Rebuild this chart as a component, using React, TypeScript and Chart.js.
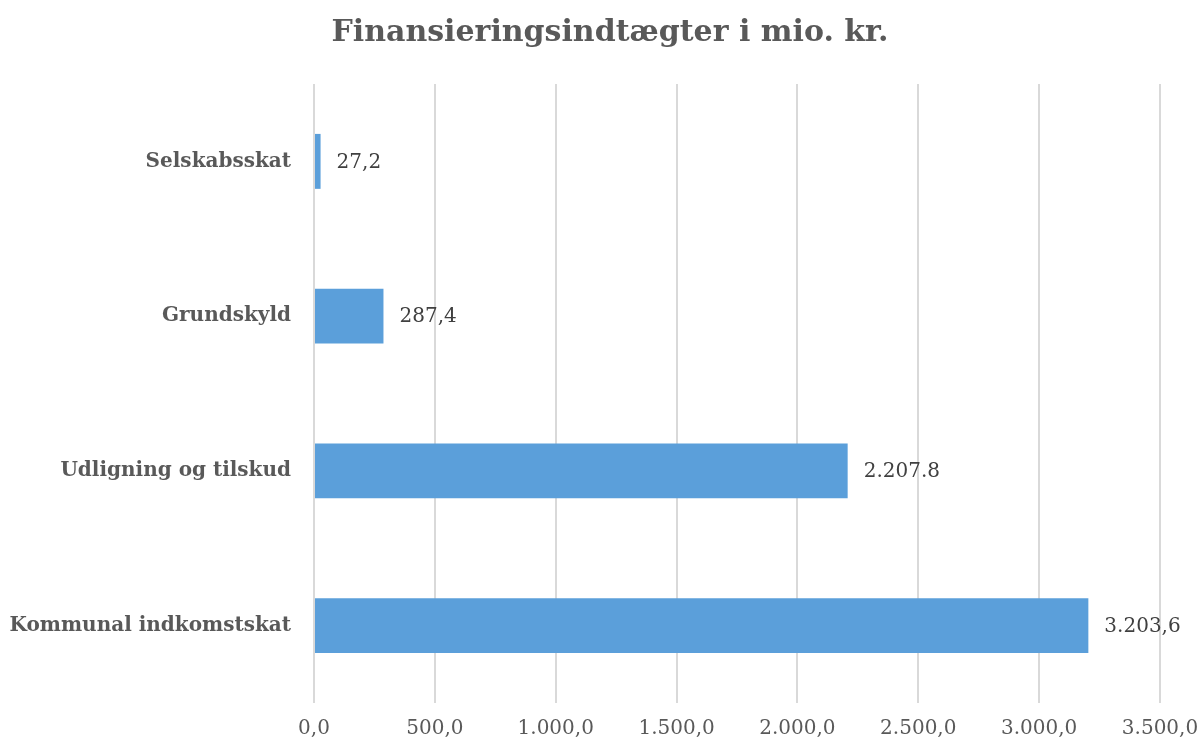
import React, { useEffect, useRef } from "react";
import { Chart, registerables } from "chart.js";

Chart.register(...registerables);

const title = "Finansieringsindtægter i mio. kr.";
const categories = ["Selskabsskat", "Grundskyld", "Udligning og tilskud", "Kommunal indkomstskat"];
const values = [27.2, 287.4, 2207.8, 3203.6];
const valueLabels = ["27,2", "287,4", "2.207.8", "3.203,6"];
const xTickLabels = ["0,0", "500,0", "1.000,0", "1.500,0", "2.000,0", "2.500,0", "3.000,0", "3.500,0"];

const FONT = "'DejaVu Serif', serif";

export default function App() {
  const ref = useRef<HTMLCanvasElement | null>(null);
  useEffect(() => {
    document.body.style.margin = "0";
    const canvas = ref.current!;
    const titlePlugin = {
      id: "customTitle",
      afterDraw(chart: any) {
        const ctx = chart.ctx;
        ctx.save();
        ctx.font = `bold 30px ${FONT}`;
        ctx.fillStyle = "#595959";
        ctx.textAlign = "center";
        ctx.textBaseline = "middle";
        ctx.fillText(title, 610, 33);
        ctx.restore();
      },
    };
    const labelPlugin = {
      id: "valueLabels",
      afterDatasetsDraw(chart: any) {
        const ctx = chart.ctx;
        const meta = chart.getDatasetMeta(0);
        ctx.save();
        ctx.font = `20px ${FONT}`;
        ctx.fillStyle = "#404040";
        ctx.textAlign = "left";
        ctx.textBaseline = "middle";
        meta.data.forEach((bar: any, i: number) => {
          ctx.fillText(valueLabels[i], bar.x + 16, bar.y + 1);
        });
        ctx.restore();
      },
    };
    const chart = new Chart(canvas, {
      type: "bar",
      data: {
        labels: categories,
        datasets: [
          {
            data: values,
            backgroundColor: "#5B9FDA",
            borderWidth: 0,
            barPercentage: 0.355,
            categoryPercentage: 1,
          },
        ],
      },
      options: {
        indexAxis: "y",
        animation: false,
        responsive: false,
        maintainAspectRatio: false,
        layout: { padding: { top: 84, right: 41, left: 0, bottom: 0 } },
        plugins: {
          legend: { display: false },
          tooltip: { enabled: false },
          title: { display: false },
        },
        scales: {
          x: {
            min: 0,
            max: 3500,
            ticks: {
              stepSize: 500,
              padding: 14,
              color: "#595959",
              font: { family: FONT, size: 20 },
              callback: (_v: any, i: number) => xTickLabels[i],
            },
            grid: { color: "#d9d9d9", lineWidth: 2, drawTicks: false },
            border: { display: false },
            afterFit: (scale: any) => {
              scale.height = 43;
              scale.paddingLeft = 0;
              scale.paddingRight = 0;
            },
          },
          y: {
            ticks: {
              padding: 23,
              color: "#595959",
              font: { family: FONT, size: 20, weight: "bold" },
            },
            grid: { display: false, drawTicks: false },
            border: { display: false },
            afterFit: (scale: any) => {
              scale.width = 314;
              scale.paddingTop = 0;
              scale.paddingBottom = 0;
            },
          },
        },
      },
      plugins: [titlePlugin, labelPlugin],
    });
    return () => chart.destroy();
  }, []);
  return <canvas ref={ref} width={1201} height={746} style={{ display: "block" }} />;
}
